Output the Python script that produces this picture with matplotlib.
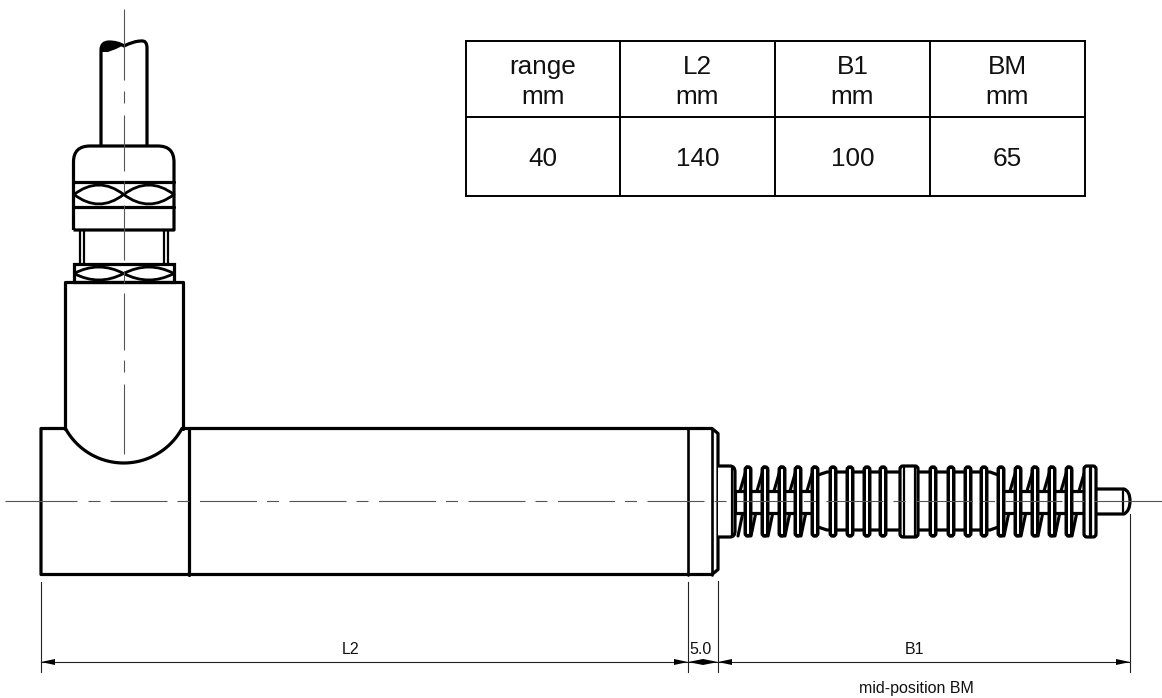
"""Drawing of the position sensor with its dimension table. Coordinates are reference pixels."""
import matplotlib
matplotlib.use("Agg")
import matplotlib.pyplot as plt
import numpy as np
from matplotlib.path import Path
from matplotlib.patches import PathPatch, FancyBboxPatch, Rectangle

W, H = 1162, 698
plt.rcParams["font.family"] = ["Liberation Sans", "DejaVu Sans"]

# table
TABLE_X = [466, 620, 775, 930, 1085]
TABLE_Y = [41, 117, 196]
TABLE_HEAD = ["range", "L2", "B1", "BM"]
TABLE_UNIT = ["mm", "mm", "mm", "mm"]
TABLE_VALUES = ["40", "140", "100", "65"]

# housing (pixels)
BODY_LEFT, BODY_SPLIT, BODY_COLLAR, BODY_FACE, BODY_RIGHT = 41, 188.5, 688, 712, 718
BODY_TOP, BODY_BOTTOM, AXIS_Y = 428.5, 574.5, 501
AXIS_X = 123.7

# spring and bellows on the rod
COILS_LEFT = [748, 765, 782, 798, 815]
RIBS_LEFT = [833, 850, 867, 883]
RIBS_RIGHT = [933, 951, 968, 984]
COILS_RIGHT = [1001, 1018, 1035, 1052, 1069]

# centre lines
V_DASHES = [(9, 80), (91, 103), (115, 171), (181, 193), (205, 260), (271, 283),
            (293, 350), (360, 372), (384, 454)]
H_DASHES = [(5, 77), (88, 100)]

# dimension line
DIM_Y = 662
DIM_LABELS = [("L2", 351), ("5.0", 701), ("B1", 915)]

THICK = 2.3
MID = 1.6
THIN = 0.8


def line(ax, xs, ys, lw=THICK, color="black", z=3):
    ax.plot(xs, ys, color=color, lw=lw, solid_capstyle="round", solid_joinstyle="round", zorder=z)


def curve(ax, verts, codes, lw=THICK, face="none", z=3):
    ax.add_patch(PathPatch(Path(verts, codes), facecolor=face, edgecolor="black", lw=lw,
                           joinstyle="round", zorder=z))


def lens(ax, x0, x1, y0, y1):
    ym = (y0 + y1) / 2
    xm = (x0 + x1) / 2
    verts = [(x0, ym), (xm, 2 * y0 - ym), (x1, ym), (xm, 2 * y1 - ym), (x0, ym)]
    codes = [Path.MOVETO, Path.CURVE3, Path.CURVE3, Path.CURVE3, Path.CURVE3]
    curve(ax, verts, codes, lw=2.0, face="white", z=4)


def oval(ax, x, y0=467, y1=536, w=5.5):
    ax.add_patch(FancyBboxPatch((x - w / 2 + 2, y0 + 2), w - 4, y1 - y0 - 4,
                                boxstyle="round,pad=2,rounding_size=2.7", facecolor="white",
                                edgecolor="black", lw=2.5, zorder=6))


def coil_diagonals(ax, xs):
    # only the parts of each winding that show above and below the rod
    for a, b in zip(xs[:-1], xs[1:]):
        line(ax, [b - 1, b - 8], [467, 491], lw=2.2, z=4)
        line(ax, [a + 3, a + 8], [536, 512], lw=2.2, z=4)


def arrow(ax, tip, direction, length=14, half=3):
    ax.fill([tip, tip + direction * length, tip + direction * length],
            [DIM_Y, DIM_Y - half, DIM_Y + half], color="black", lw=0, zorder=5)


def draw_cable_and_glands(ax):
    # cable with the broken end on top
    verts = [(101, 146), (101, 50), (101, 42), (109, 42), (118, 42), (124, 46),
             (134, 41), (141, 41), (147, 40), (147, 48), (147, 146)]
    codes = [Path.MOVETO, Path.LINETO, Path.CURVE3, Path.CURVE3, Path.CURVE3, Path.CURVE3,
             Path.CURVE3, Path.CURVE3, Path.CURVE3, Path.CURVE3, Path.LINETO]
    curve(ax, verts, codes)
    ax.fill([101, 104, 110, 117, 122, 116, 108, 101],
            [47, 43, 42, 43, 46, 49, 52, 52], color="black", lw=0, zorder=4)

    # upper nut
    verts = [(73.5, 230), (73.5, 162), (73.5, 146), (90, 146), (158, 146), (174, 146),
             (174, 162), (174, 230), (73.5, 230)]
    codes = [Path.MOVETO, Path.LINETO, Path.CURVE3, Path.CURVE3, Path.LINETO, Path.CURVE3,
             Path.CURVE3, Path.LINETO, Path.LINETO]
    curve(ax, verts, codes)
    line(ax, [73.5, 174], [182, 182])
    line(ax, [73.5, 174], [207, 207])
    lens(ax, 74, AXIS_X, 185, 204)
    lens(ax, AXIS_X, 174, 185, 204)

    # tube between the nuts
    for x in (80, 83.5, 164, 167.5):
        line(ax, [x, x], [230, 263], lw=MID)

    # lower nut
    ax.add_patch(Rectangle((73.5, 263.5), 100.5, 18.5, fill=False, edgecolor="black", lw=THICK, zorder=3))
    lens(ax, 74, AXIS_X, 267, 280)
    lens(ax, AXIS_X, 174, 267, 280)


def draw_housing(ax):
    # neck with a circular seat on the body
    rad = 66.4
    theta = np.radians(np.linspace(28.7, 151.3, 60))
    seat_x = AXIS_X + rad * np.cos(theta)
    seat_y = 396.6 + rad * np.sin(theta)
    line(ax, [65, 65, 183, 183], [428.5, 282, 282, 428.5])
    line(ax, seat_x, seat_y)
    # body outline
    xs = [65, BODY_LEFT, BODY_LEFT, BODY_RIGHT - 6, BODY_RIGHT, BODY_RIGHT, BODY_RIGHT - 6, 183]
    ys = [BODY_TOP, BODY_TOP, BODY_BOTTOM, BODY_BOTTOM, BODY_BOTTOM - 5, BODY_TOP + 5, BODY_TOP, BODY_TOP]
    line(ax, xs, ys)
    line(ax, [BODY_SPLIT] * 2, [BODY_TOP, BODY_BOTTOM])
    line(ax, [BODY_COLLAR] * 2, [BODY_TOP, BODY_BOTTOM], lw=1.9)
    line(ax, [BODY_FACE] * 2, [BODY_TOP, BODY_BOTTOM], lw=1.9)


def draw_rod(ax):
    # rod behind the spring
    coil_diagonals(ax, [735] + COILS_LEFT)
    coil_diagonals(ax, COILS_RIGHT + [1087])
    ax.add_patch(Rectangle((735, 490.5), 80, 22, facecolor="white", edgecolor="black", lw=THICK, zorder=5))
    ax.add_patch(Rectangle((1001, 490.5), 86, 22, facecolor="white", edgecolor="black", lw=THICK, zorder=5))
    # boss on the front face
    verts = [(718, 466), (730, 466), (735, 466), (735, 472), (735, 531), (735, 537), (730, 537), (718, 537)]
    codes = [Path.MOVETO, Path.LINETO, Path.CURVE3, Path.CURVE3, Path.LINETO, Path.CURVE3, Path.CURVE3, Path.LINETO]
    curve(ax, verts, codes, face="white", z=6)
    line(ax, [731.5, 731.5], [467, 536], lw=MID, z=7)
    # bellows tube with tapers
    tube_x = [815, 827, 990, 1001]
    line(ax, tube_x, [476, 472, 472, 476])
    line(ax, tube_x, [526, 530, 530, 526])
    for x in COILS_LEFT + RIBS_LEFT + RIBS_RIGHT + COILS_RIGHT:
        oval(ax, x)
    # middle ring
    ax.add_patch(FancyBboxPatch((902, 468), 14, 67, boxstyle="round,pad=2,rounding_size=3",
                                facecolor="white", edgecolor="black", lw=THICK, zorder=6))
    line(ax, [904, 904], [467, 536], lw=MID, z=7)
    line(ax, [915, 915], [467, 536], lw=MID, z=7)
    # rear end stop and rod tip
    ax.add_patch(FancyBboxPatch((1086, 468), 8, 67, boxstyle="round,pad=2,rounding_size=3",
                                facecolor="white", edgecolor="black", lw=THICK, zorder=6))
    line(ax, [1090, 1090], [467, 536], lw=THICK, z=7)
    verts = [(1096, 489), (1124, 489), (1130, 491), (1130, 501), (1130, 511), (1124, 514), (1096, 514)]
    codes = [Path.MOVETO, Path.LINETO, Path.CURVE3, Path.CURVE3, Path.CURVE3, Path.CURVE3, Path.LINETO]
    curve(ax, verts, codes, face="white", z=5)
    line(ax, [1123, 1123], [491, 512], lw=MID, z=6)


def draw_centre_lines(ax):
    gray = "#555555"
    for a, b in V_DASHES:
        ax.plot([AXIS_X, AXIS_X], [a, b], color=gray, lw=THIN, zorder=8, solid_capstyle="butt")
    for a, b in H_DASHES:
        ax.plot([a, b], [AXIS_Y, AXIS_Y], color=gray, lw=THIN, zorder=8, solid_capstyle="butt")
    # long dash, gap, short dash, gap - given in points
    ax.plot([110, 1130], [AXIS_Y, AXIS_Y], color=gray, lw=THIN, zorder=8,
            dashes=[57 * 0.72 / THIN, 10 * 0.72 / THIN, 12 * 0.72 / THIN, 10.5 * 0.72 / THIN],
            dash_capstyle="butt")
    ax.plot([1130, 1162], [AXIS_Y, AXIS_Y], color=gray, lw=THIN, zorder=8)


def draw_dimensions(ax):
    for x, y0 in [(41, 582), (BODY_COLLAR, 582), (BODY_RIGHT, 581), (1130, 514)]:
        ax.plot([x, x], [y0, 672], color="#222222", lw=THIN, zorder=2)
    ax.plot([41, 1130], [DIM_Y, DIM_Y], color="#222222", lw=THIN, zorder=2)
    arrow(ax, 41, 1)
    arrow(ax, BODY_COLLAR, -1)
    arrow(ax, BODY_COLLAR, 1, length=15)
    arrow(ax, BODY_RIGHT, -1, length=15)
    arrow(ax, BODY_RIGHT, 1)
    arrow(ax, 1130, -1)
    for label, x in DIM_LABELS:
        ax.text(x, 653.5, label, ha="center", va="baseline", fontsize=11.5, color="#111111")
    ax.text(916, 693, "mid-position BM", ha="center", va="baseline", fontsize=11.5, color="#111111")


def draw_table(ax):
    for x in TABLE_X:
        ax.plot([x, x], [TABLE_Y[0], TABLE_Y[-1]], color="black", lw=1.4, zorder=2, solid_capstyle="projecting")
    for y in TABLE_Y:
        ax.plot([TABLE_X[0], TABLE_X[-1]], [y, y], color="black", lw=1.4, zorder=2, solid_capstyle="projecting")
    for i, (head, unit, val) in enumerate(zip(TABLE_HEAD, TABLE_UNIT, TABLE_VALUES)):
        xc = (TABLE_X[i] + TABLE_X[i + 1]) / 2
        ax.text(xc, 74, head, ha="center", va="baseline", fontsize=18.8, color="#111111")
        ax.text(xc, 104, unit, ha="center", va="baseline", fontsize=18.8, color="#111111")
        ax.text(xc, 166, val, ha="center", va="baseline", fontsize=18.8, color="#111111")


def main():
    fig = plt.figure(figsize=(W / 100, H / 100), dpi=100)
    ax = fig.add_axes([0, 0, 1, 1])
    ax.set_xlim(0, W)
    ax.set_ylim(H, 0)
    ax.axis("off")
    draw_cable_and_glands(ax)
    draw_housing(ax)
    draw_rod(ax)
    draw_centre_lines(ax)
    draw_dimensions(ax)
    draw_table(ax)
    fig.savefig("out.png", dpi=100)
    plt.close(fig)


if __name__ == "__main__":
    main()
